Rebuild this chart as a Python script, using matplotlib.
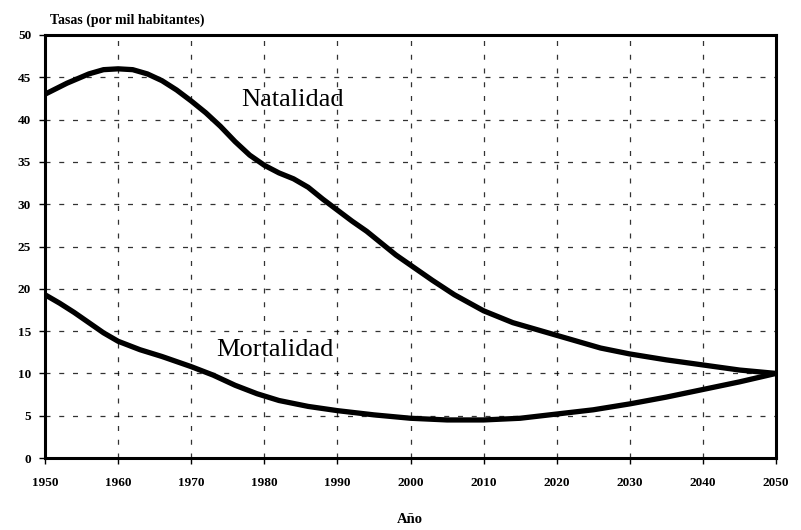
import matplotlib
matplotlib.use("Agg")
import matplotlib.pyplot as plt

# valores
anios_nat = [1950, 1953, 1956, 1958, 1960, 1962, 1964, 1966, 1968, 1970, 1972, 1974,
             1976, 1978, 1980, 1982, 1984, 1986, 1988, 1990, 1992, 1994, 1996, 1998,
             2000, 2003, 2006, 2010, 2014, 2018, 2022, 2026, 2030, 2035, 2040, 2045, 2050]
natalidad = [43.0, 44.3, 45.4, 45.9, 46.0, 45.9, 45.4, 44.6, 43.5, 42.2, 40.8, 39.2,
             37.4, 35.8, 34.6, 33.7, 33.0, 32.0, 30.6, 29.3, 28.0, 26.8, 25.4, 24.0,
             22.8, 21.0, 19.3, 17.4, 16.0, 15.0, 14.0, 13.0, 12.3, 11.6, 11.0, 10.4, 10.0]

anios_mor = [1950, 1952, 1954, 1956, 1958, 1960, 1963, 1966, 1970, 1973, 1976, 1979,
             1982, 1986, 1990, 1995, 2000, 2005, 2010, 2015, 2020, 2025, 2030, 2035,
             2040, 2045, 2050]
mortalidad = [19.3, 18.3, 17.2, 16.0, 14.8, 13.8, 12.8, 12.0, 10.8, 9.8, 8.6, 7.6,
              6.8, 6.1, 5.6, 5.1, 4.7, 4.5, 4.5, 4.7, 5.2, 5.7, 6.4, 7.2,
              8.1, 9.0, 10.0]

xticks = list(range(1950, 2051, 10))
yticks = list(range(0, 51, 5))

plt.rcParams['font.family'] = ['Liberation Serif', 'DejaVu Serif']

fig = plt.figure(figsize=(8.01, 5.30), dpi=100)
ax = fig.add_axes([0.0562, 0.1358, 0.9126, 0.7982])

ax.plot(anios_nat, natalidad, color='black', lw=3.8, solid_joinstyle='round')
ax.plot(anios_mor, mortalidad, color='black', lw=3.8, solid_joinstyle='round')

ax.set_xlim(1950, 2050)
ax.set_ylim(0, 50)
ax.set_xticks(xticks)
ax.set_yticks(yticks)
ax.tick_params(direction='out', length=4, width=1, labelsize=9.5, pad=10)
ax.tick_params(axis='y', pad=6)
for lbl in ax.get_xticklabels() + ax.get_yticklabels():
    lbl.set_fontweight('bold')

ax.grid(True, color='black', lw=0.9, linestyle=(0, (4, 7)), alpha=0.8)
ax.set_axisbelow(True)
for s in ax.spines.values():
    s.set_linewidth(2.2)

ax.text(1983.8, 42.3, 'Natalidad', fontsize=19, ha='center', va='center')
ax.text(1981.5, 12.8, 'Mortalidad', fontsize=19, ha='center', va='center')

fig.text(0.062, 0.962, 'Tasas (por mil habitantes)', fontsize=10, fontweight='bold',
         ha='left', va='center')
fig.text(0.512, 0.02, 'Año', fontsize=10.5, fontweight='bold', ha='center', va='center')

fig.savefig('out.png', dpi=100)
